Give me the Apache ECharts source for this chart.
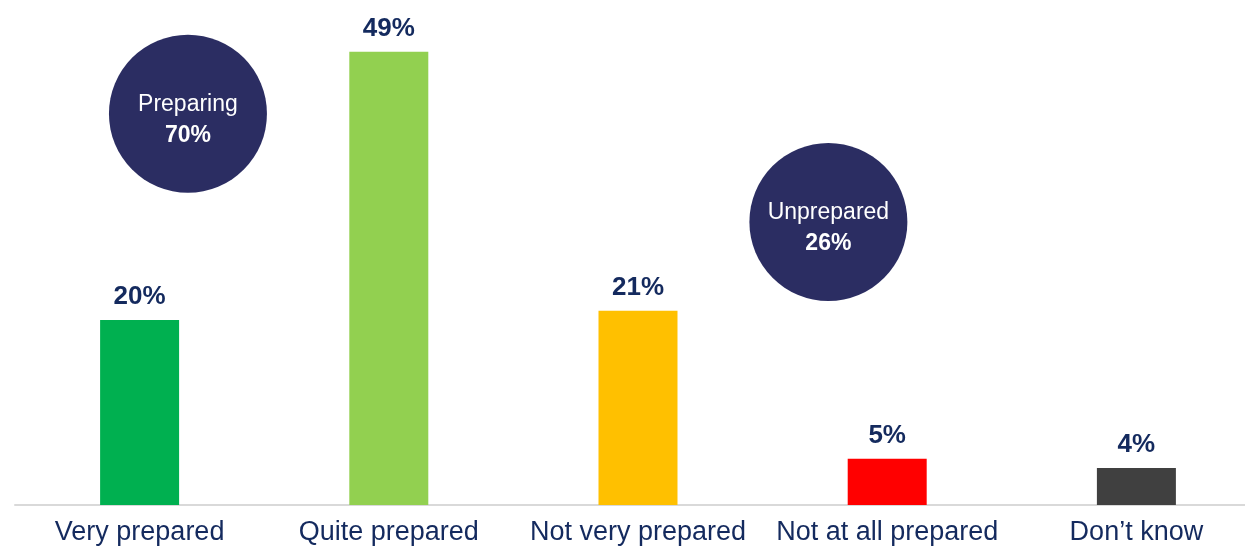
<!DOCTYPE html>
<html>
<head>
<meta charset="utf-8">
<script src="https://cdn.jsdelivr.net/npm/echarts@6/dist/echarts.min.js"></script>
<style>
  html, body { margin: 0; padding: 0; background: #ffffff; overflow: hidden; }
  #chart { width: 1245px; height: 549px; }
</style>
</head>
<body>
<div id="chart"></div>
<script>
// Survey answers: how prepared respondents feel
const categories = ['Very prepared', 'Quite prepared', 'Not very prepared', 'Not at all prepared', 'Don\u2019t know'];
const values = [20, 49, 21, 5, 4];
const barColors = ['#00B050', '#92D050', '#FFC000', '#FF0000', '#404040'];

// Summary bubbles (grouped totals), placed in chart coordinates
const bubbleTitles = ['Preparing', 'Unprepared'];
const bubbleValues = [70, 26];
const bubbleX = [0.194, 2.764];   // position along the category axis (0 = first category)
const bubbleY = [42.3, 30.6];     // height in percentage points

const navyText = '#142A5E';
const bubbleFill = '#2B2D62';
const font = '"Liberation Sans", Arial, sans-serif';

const chart = echarts.init(document.getElementById('chart'), null, { renderer: 'canvas' });

chart.setOption({
  animation: false,
  backgroundColor: '#ffffff',
  // plot area runs slightly past the right edge of the canvas
  grid: { left: 15, right: -16, top: 42.5, bottom: 44, containLabel: false, outerBoundsMode: 'none' },
  xAxis: [
    {
      type: 'category',
      data: categories,
      axisLine: { show: true, lineStyle: { color: '#D9D9D9', width: 2 } },
      axisTick: { show: false },
      axisLabel: { interval: 0, color: navyText, fontFamily: font, fontSize: 27, margin: 14 },
      splitLine: { show: false }
    },
    {
      type: 'value',
      min: -0.5,
      max: 4.5,
      show: false
    }
  ],
  yAxis: {
    type: 'value',
    min: 0,
    max: 50,
    show: false,
    splitLine: { show: false }
  },
  series: [
    {
      type: 'bar',
      xAxisIndex: 0,
      barWidth: '31.7%',
      data: values.map((v, i) => ({ value: v, itemStyle: { color: barColors[i] } })),
      label: {
        show: true,
        position: 'top',
        distance: 10,
        formatter: '{c}%',
        color: navyText,
        fontFamily: font,
        fontWeight: 'bold',
        fontSize: 26
      }
    },
    {
      type: 'scatter',
      xAxisIndex: 1,
      symbol: 'circle',
      symbolSize: 158,
      itemStyle: { color: bubbleFill, opacity: 1 },
      z: 3,
      data: bubbleTitles.map((t, i) => ({ name: t, value: [bubbleX[i], bubbleY[i], bubbleValues[i]] })),
      label: {
        show: true,
        position: 'inside',
        offset: [0, 6],
        formatter: p => '{t|' + p.name + '}\n{v|' + p.value[2] + '%}',
        rich: {
          t: { color: '#ffffff', fontFamily: font, fontSize: 23, lineHeight: 31 },
          v: { color: '#ffffff', fontFamily: font, fontSize: 23, fontWeight: 'bold', lineHeight: 31 }
        }
      }
    }
  ]
});
</script>
</body>
</html>
